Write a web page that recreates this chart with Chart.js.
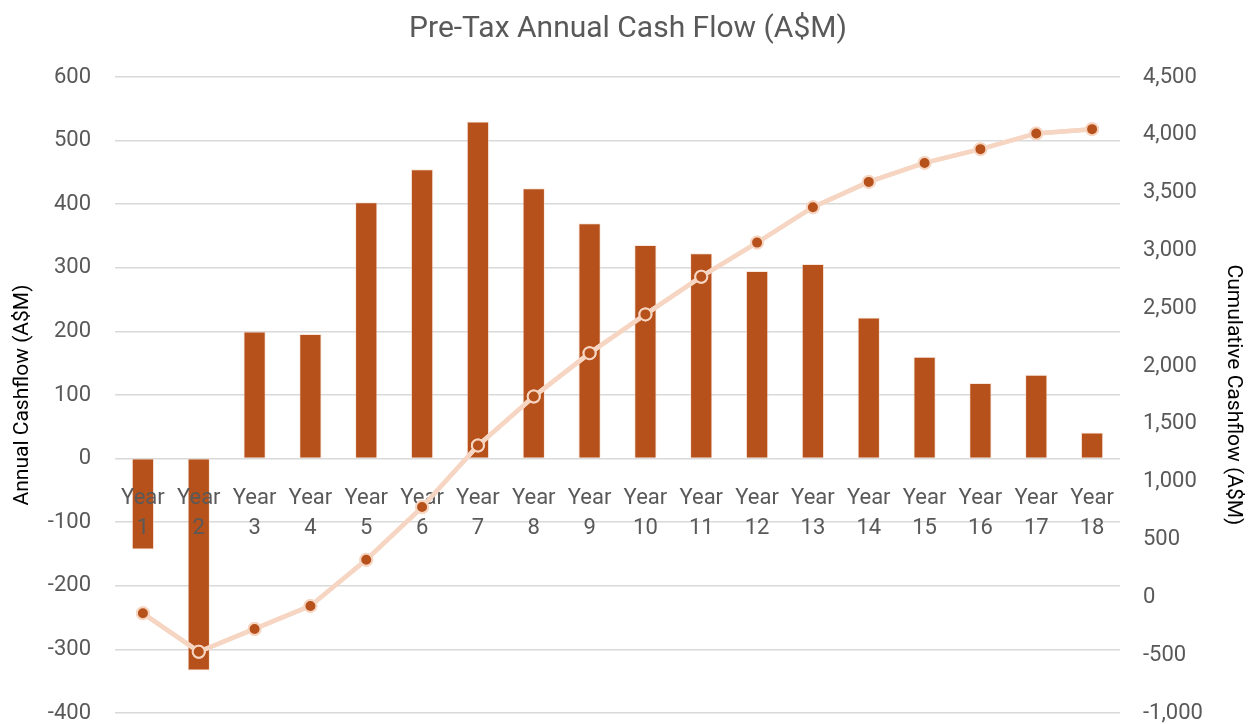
<!DOCTYPE html>
<html>
<head>
<meta charset="utf-8">
<script src="https://cdn.jsdelivr.net/npm/chart.js@4.4.0/dist/chart.umd.min.js"></script>
<style>
  html, body { margin: 0; padding: 0; background: #ffffff; }
  #wrap { width: 1256px; height: 724px; position: relative; }
</style>
</head>
<body>
<div id="wrap"><canvas id="c" width="1256" height="724"></canvas></div>
<script>
const categories = [
  ['Year','1'],['Year','2'],['Year','3'],['Year','4'],['Year','5'],['Year','6'],
  ['Year','7'],['Year','8'],['Year','9'],['Year','10'],['Year','11'],['Year','12'],
  ['Year','13'],['Year','14'],['Year','15'],['Year','16'],['Year','17'],['Year','18']
];
const annualCashflow = [-143, -333, 200, 196, 403, 455, 530, 425, 370, 336, 323, 295, 306, 222, 160, 119, 132, 41];
const cumulativeCashflow = [-138, -470, -273, -74, 325, 781, 1313, 1737, 2112, 2447, 2773, 3068, 3374, 3593, 3757, 3876, 4012, 4049];

const titleText = 'Pre-Tax Annual Cash Flow (A$M)';
const leftAxisTitle = 'Annual Cashflow (A$M)';
const rightAxisTitle = 'Cumulative Cashflow (A$M)';

const FONT = 'Roboto, "Noto Sans", sans-serif';
const TXT = '#595959';
const BAR = '#B7511B';
const LINE = '#F6D6C3';

// redraw the cumulative line on top of the category labels (as in the reference)
const lineOnTop = {
  id: 'lineOnTop',
  afterDraw(chart) {
    const meta = chart.getDatasetMeta(0);
    const a = chart.chartArea;
    const ctx = chart.ctx;
    ctx.save();
    ctx.beginPath();
    ctx.rect(a.left, a.top - 10, a.right - a.left, a.bottom - a.top + 20);
    ctx.clip();
    meta.controller.draw();
    ctx.restore();
  }
};

new Chart(document.getElementById('c'), {
  data: {
    labels: categories,
    datasets: [
      {
        type: 'line',
        label: 'Cumulative Cashflow',
        data: cumulativeCashflow,
        yAxisID: 'y1',
        order: 0,
        borderColor: LINE,
        borderWidth: 4.5,
        tension: 0,
        pointRadius: 6,
        pointBorderWidth: 2,
        pointBackgroundColor: BAR,
        pointBorderColor: LINE,
        fill: false
      },
      {
        type: 'bar',
        label: 'Annual Cashflow',
        data: annualCashflow,
        yAxisID: 'y',
        order: 1,
        backgroundColor: BAR,
        borderColor: 'rgba(246,214,195,0.55)',
        borderWidth: 1,
        categoryPercentage: 1,
        barPercentage: 0.4
      }
    ]
  },
  options: {
    responsive: false,
    animation: false,
    layout: { padding: { left: 0, right: 0, top: 0, bottom: 0 } },
    plugins: {
      legend: { display: false },
      tooltip: { enabled: false },
      title: {
        display: true,
        text: titleText,
        color: TXT,
        font: { family: FONT, size: 30, weight: 'normal' },
        padding: { top: 11, bottom: 30 }
      }
    },
    scales: {
      x: {
        position: { y: 0 },
        grid: { display: false },
        border: { display: false },
        ticks: {
          z: 1,
          color: TXT,
          font: { family: FONT, size: 22, lineHeight: 1.36 },
          padding: 17,
          maxRotation: 0,
          autoSkip: false
        },
        afterFit: (s) => { s.height = 0; }
      },
      y: {
        position: 'left',
        min: -400,
        max: 600,
        grid: { color: '#D9D9D9', lineWidth: 1.5, drawTicks: true, tickLength: 24, tickColor: 'rgba(0,0,0,0)' },
        border: { display: false },
        ticks: {
          stepSize: 100,
          color: TXT,
          font: { family: FONT, size: 22, lineHeight: 1.0 },
          padding: 0
        },
        title: {
          display: true,
          text: leftAxisTitle,
          color: '#000000',
          font: { family: FONT, size: 21 },
          padding: 10
        },
        afterFit: (s) => { s.width = 115; }
      },
      y1: {
        position: 'right',
        min: -1000,
        max: 4500,
        grid: { display: true, drawOnChartArea: false, drawTicks: true, tickLength: 23, tickColor: 'rgba(0,0,0,0)' },
        border: { display: false },
        ticks: {
          stepSize: 500,
          color: TXT,
          font: { family: FONT, size: 22, lineHeight: 1.0 },
          padding: 0,
          callback: (v) => Number(v).toLocaleString('en-US')
        },
        title: {
          display: true,
          text: rightAxisTitle,
          color: '#000000',
          font: { family: FONT, size: 21 },
          padding: 10
        },
        afterFit: (s) => { s.width = 136; }
      }
    }
  },
  plugins: [lineOnTop]
});
</script>
</body>
</html>
